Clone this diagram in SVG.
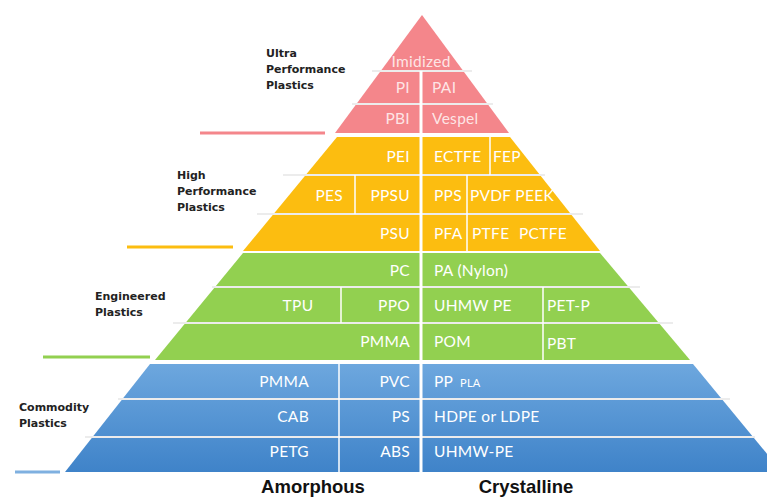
<svg xmlns="http://www.w3.org/2000/svg" width="767" height="498" viewBox="0 0 767 498">
<defs>
<linearGradient id="blueGrad" x1="0" y1="364" x2="0" y2="472" gradientUnits="userSpaceOnUse">
<stop offset="0" stop-color="#6da7de"/>
<stop offset="1" stop-color="#3f83c9"/>
</linearGradient>
<style>
.cell{font-family:Lato,"Open Sans",sans-serif;font-size:15.5px;letter-spacing:0.3px;fill:#ffffff}
.red .cell{fill:#fff2f2;fill-opacity:0.9}
.r{text-anchor:end}
.m{text-anchor:middle}
.lab{font-family:"DejaVu Sans",sans-serif;font-weight:bold;font-size:11px;fill:#222}
.axis{font-family:"Liberation Sans",Arial,sans-serif;font-weight:bold;font-size:18.5px;fill:#111;text-anchor:middle}
.sep{stroke:#ececec;stroke-width:2}
.div{stroke:#ffffff;stroke-width:1.5}
.cdiv{stroke:#ffffff;stroke-width:3}
.lead{stroke-width:3}
</style>
</defs>
<rect width="767" height="498" fill="#ffffff"/>

<g id="tier-ultra" class="red">
<polygon points="422,15 509,133 335,133" fill="#f4868b"/>
<line class="sep" x1="372" y1="71" x2="472" y2="71"/>
<line class="sep" x1="352" y1="104" x2="493" y2="104"/>
<line class="cdiv" x1="421" y1="71" x2="421" y2="133"/>
<text class="cell m" x="421" y="67">Imidized</text>
<text class="cell r" x="410" y="93">PI</text>
<text class="cell" x="432" y="93">PAI</text>
<text class="cell r" x="410" y="124">PBI</text>
<text class="cell" x="432" y="124">Vespel</text>
</g>

<g id="tier-high">
<polygon points="337,137 510,137 600,251 243,251" fill="#fcbd10"/>
<line class="sep" x1="283" y1="175" x2="545" y2="175"/>
<line class="sep" x1="257" y1="214" x2="583" y2="214"/>
<line class="cdiv" x1="421" y1="137" x2="421" y2="251"/>
<line class="div" x1="490" y1="137" x2="490" y2="175"/>
<line class="div" x1="355" y1="175" x2="355" y2="214"/>
<line class="div" x1="467" y1="175" x2="467" y2="251"/>
<text class="cell r" x="410" y="162">PEI</text>
<text class="cell" x="434" y="162">ECTFE</text>
<text class="cell" x="493" y="162">FEP</text>
<text class="cell r" x="343" y="201">PES</text>
<text class="cell r" x="410" y="201">PPSU</text>
<text class="cell" x="434" y="201">PPS</text>
<text class="cell" x="470" y="201">PVDF PEEK</text>
<text class="cell r" x="410" y="239">PSU</text>
<text class="cell" x="434" y="239">PFA</text>
<text class="cell" x="472" y="239">PTFE</text>
<text class="cell" x="519" y="239">PCTFE</text>
</g>

<g id="tier-engineered">
<polygon points="243,253 600,253 690,360 155,360" fill="#92d050"/>
<line class="sep" x1="212" y1="287" x2="640" y2="287"/>
<line class="sep" x1="173" y1="323" x2="673" y2="323"/>
<line class="cdiv" x1="421" y1="253" x2="421" y2="360"/>
<line class="div" x1="341" y1="287" x2="341" y2="323"/>
<line class="div" x1="543" y1="287" x2="543" y2="360"/>
<text class="cell r" x="410" y="276">PC</text>
<text class="cell" x="434" y="276">PA (Nylon)</text>
<text class="cell m" x="298" y="311">TPU</text>
<text class="cell r" x="410" y="311">PPO</text>
<text class="cell" x="434" y="311">UHMW PE</text>
<text class="cell" x="547" y="311">PET-P</text>
<text class="cell r" x="410" y="347">PMMA</text>
<text class="cell" x="434" y="347">POM</text>
<text class="cell" x="547" y="349">PBT</text>
</g>

<g id="tier-commodity">
<polygon points="150,364 693,364 782,472 65,472" fill="url(#blueGrad)"/>
<line class="sep" x1="118" y1="399" x2="730" y2="399"/>
<line class="sep" x1="85" y1="437" x2="755" y2="437"/>
<line class="cdiv" x1="421" y1="364" x2="421" y2="472"/>
<line class="div" x1="339" y1="364" x2="339" y2="472"/>
<text class="cell r" x="309" y="387">PMMA</text>
<text class="cell r" x="410" y="387">PVC</text>
<text class="cell" x="434" y="387">PP</text>
<text class="cell" x="460" y="387" style="font-size:11px">PLA</text>
<text class="cell r" x="309" y="422">CAB</text>
<text class="cell r" x="410" y="422">PS</text>
<text class="cell" x="434" y="422">HDPE or LDPE</text>
<text class="cell r" x="309" y="457">PETG</text>
<text class="cell r" x="410" y="457">ABS</text>
<text class="cell" x="434" y="457">UHMW-PE</text>
</g>

<g id="connectors">
<line class="lead" x1="200" y1="133" x2="325" y2="133" stroke="#f4868b"/>
<line class="lead" x1="127" y1="247" x2="233" y2="247" stroke="#fcbd10"/>
<line class="lead" x1="43" y1="357" x2="150" y2="357" stroke="#92d050"/>
<line class="lead" x1="15" y1="472" x2="60" y2="472" stroke="#7fb0e0"/>
</g>

<g id="label-ultra">
<text class="lab" x="266" y="57">Ultra</text>
<text class="lab" x="266" y="73">Performance</text>
<text class="lab" x="266" y="89">Plastics</text>
</g>
<g id="label-high">
<text class="lab" x="177" y="179">High</text>
<text class="lab" x="177" y="195">Performance</text>
<text class="lab" x="177" y="211">Plastics</text>
</g>
<g id="label-engineered">
<text class="lab" x="95" y="300">Engineered</text>
<text class="lab" x="95" y="316">Plastics</text>
</g>
<g id="label-commodity">
<text class="lab" x="19" y="411">Commodity</text>
<text class="lab" x="19" y="427">Plastics</text>
</g>
<g id="axis-labels">
<text class="axis" x="313" y="493">Amorphous</text>
<text class="axis" x="526" y="493">Crystalline</text>
</g>
</svg>
